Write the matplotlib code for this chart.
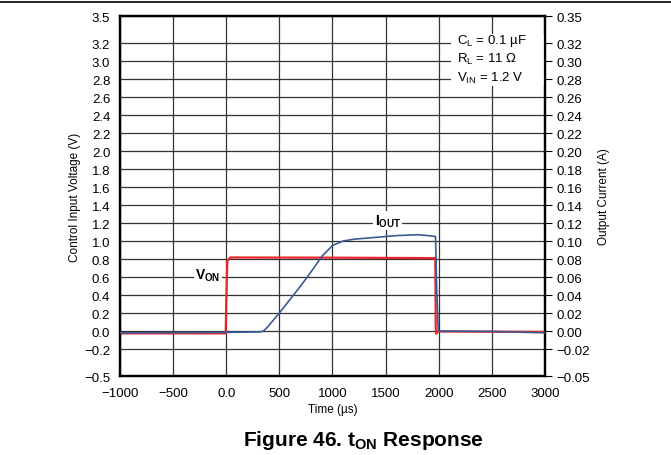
import matplotlib
matplotlib.use("Agg")
import matplotlib.pyplot as plt
from matplotlib.lines import Line2D
from matplotlib.patches import Rectangle

plt.rcParams['font.family'] = ['Liberation Sans', 'DejaVu Sans']
plt.rcParams['mathtext.fontset'] = 'custom'
plt.rcParams['mathtext.rm'] = 'Liberation Sans'
plt.rcParams['mathtext.it'] = 'Liberation Sans'
plt.rcParams['mathtext.bf'] = 'Liberation Sans:bold'

# V_ON control voltage (V), left axis
t_von = [-1000, -5, 0, 10, 40, 1000, 1968, 1972, 1976, 1990, 3000]
v_on = [-0.026, -0.026, 0.3, 0.78, 0.817, 0.815, 0.81, 0.0, -0.03, -0.005, -0.01]

# I_OUT output current (A), right axis
t_iout = [-1000, 0, 330, 360, 400, 450, 500, 600, 700, 800, 900, 1000, 1100,
          1200, 1400, 1600, 1800, 1900, 1970, 1980, 1995, 2010, 2500, 3000]
i_out = [-0.002, -0.0015, -0.001, 0.001, 0.006, 0.013, 0.02, 0.035, 0.05, 0.066,
         0.083, 0.095, 0.1, 0.102, 0.104, 0.106, 0.107, 0.106, 0.105, 0.05,
         0.001, 0.0, -0.0005, -0.002]

x_ticks = [-1000, -500, 0, 500, 1000, 1500, 2000, 2500, 3000]
x_labels = ['\u22121000', '\u2212500', '0.0', '500', '1000', '1500', '2000', '2500', '3000']
yl_ticks = [-0.5, -0.2, 0.0, 0.2, 0.4, 0.6, 0.8, 1.0, 1.2, 1.4, 1.6, 1.8, 2.0,
            2.2, 2.4, 2.6, 2.8, 3.0, 3.2, 3.5]
yr_ticks = [v / 10 for v in yl_ticks]

fig = plt.figure(figsize=(6.71, 4.56), dpi=100)
ax = fig.add_axes([0.1788, 0.1732, 0.6334, 0.7895])
ax2 = ax.twinx()

ax.set_xlim(-1000, 3000)
ax.set_ylim(-0.5, 3.5)
ax2.set_ylim(-0.05, 0.35)

ax.set_xticks(x_ticks)
ax.set_xticklabels(x_labels, fontsize=9.5)
ax.set_yticks(yl_ticks)
ax.set_yticklabels([('%.1f' % v).replace('-', '\u2212') for v in yl_ticks], fontsize=9.5)
ax2.set_yticks(yr_ticks)
ax2.set_yticklabels([('%.2f' % v).replace('-', '\u2212') for v in yr_ticks], fontsize=9.5)

ax.grid(True, color='#333333', lw=0.9)
ax.tick_params(axis='y', length=0, pad=7)
ax.tick_params(axis='x', length=0, pad=8)
ax2.tick_params(axis='y', length=5, width=0.8, direction='out', pad=3)

for a in (ax, ax2):
    for s in a.spines.values():
        s.set_linewidth(1.6)

ax.plot(t_von, v_on, color='#e8262b', lw=1.6, zorder=4)
ax2.plot(t_iout, i_out, color='#3b5b96', lw=1.2, zorder=5)

ax.set_ylabel('Control Input Voltage (V)', fontsize=8.5, labelpad=2)
ax2.set_ylabel('Output Current (A)', fontsize=8.5, labelpad=6)
ax.set_xlabel('Time (\u00b5s)', fontsize=8.5, labelpad=3)

bb = dict(facecolor='white', edgecolor='none', pad=1)
ax.text(-172, 0.63, r'$\mathbf{V_{ON}}$', fontsize=10, ha='center', va='center', bbox=bb, zorder=6)
ax.text(1520, 1.23, r'$\mathbf{I_{OUT}}$', fontsize=10, ha='center', va='center', bbox=bb, zorder=6)

# white box behind the condition text
ax.add_patch(Rectangle((2120, 2.72), 880, 0.58, facecolor='white', edgecolor='none', zorder=3))
ax.text(2170, 3.23, r'$\mathregular{C_L}$ = 0.1 ' + '\u00b5F', fontsize=9.5,
        ha='left', va='center', zorder=6)
ax.text(2170, 3.03, r'$\mathregular{R_L}$ = 11 ' + '\u03a9', fontsize=9.5,
        ha='left', va='center', zorder=6)
ax.text(2170, 2.82, r'$\mathregular{V_{IN}}$ = 1.2 V', fontsize=9.5,
        ha='left', va='center', zorder=6)

fig.text(0.541, 0.035, r'Figure 46. $\mathbf{t_{ON}}$ Response', fontsize=15,
         fontweight='bold', ha='center', va='center')

fig.add_artist(Line2D([0, 1], [1 - 3 / 456, 1 - 3 / 456], color='black', lw=1.2,
                      transform=fig.transFigure))

fig.savefig('out.png', dpi=100)
